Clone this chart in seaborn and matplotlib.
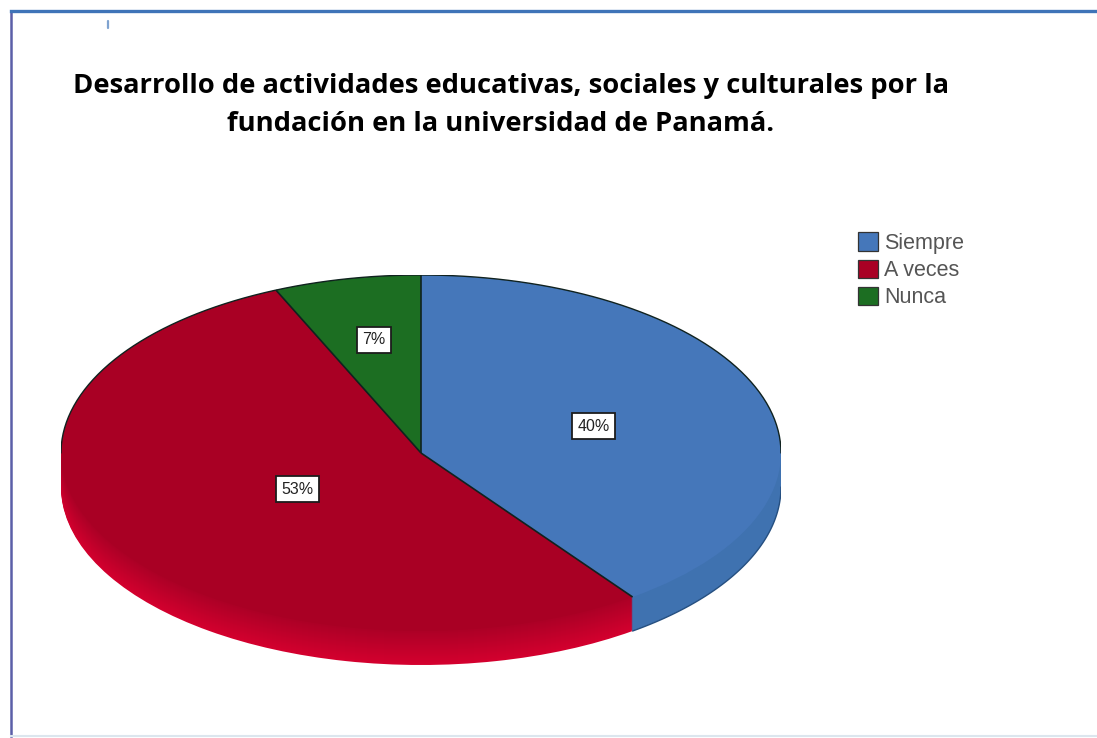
import matplotlib
matplotlib.use("Agg")
import matplotlib.pyplot as plt
from matplotlib.patches import Patch
from matplotlib.lines import Line2D
import matplotlib.colors as mc
import numpy as np
import seaborn as sns

categories = ["Siempre", "A veces", "Nunca"]
values = [40.0, 53.4, 6.6]
title_lines = ["Desarrollo de actividades educativas, sociales y culturales por la",
               "fundación en la universidad de Panamá."]

top_colors = sns.color_palette(["#4577BA", "#A90024", "#1C6E22"])
rim_near = ["#3F72B0", "#D4002E", "#1C6E22"]
rim_far = ["#3F72B0", "#AC0026", "#1A5A1E"]
label_radii = [0.50, 0.40, 0.655]

sns.set_theme(style="white")
plt.rcParams["font.family"] = ["Liberation Sans", "DejaVu Sans"]

W, H = 1097, 738
fig = plt.figure(figsize=(W / 100, H / 100), dpi=100, facecolor="white")

# outer picture frame
frame = fig.add_axes([11 / W, 2 / H, (W - 11 + 5) / W, (H - 13) / H])
frame.set(xticks=[], yticks=[], xlim=(0, W - 6), ylim=(H - 13, 0))
for name in frame.spines:
    frame.spines[name].set_visible(True)
frame.spines["right"].set_visible(False)
frame.spines["top"].set(color="#3F74B8", linewidth=2.4)
frame.spines["left"].set(color="#5B5FA8", linewidth=1.8)
frame.spines["bottom"].set(color="#DCE6EE", linewidth=1.5)
frame.add_artist(Line2D([97, 97], [10, 17], color="#7FA3D0", lw=1.6))

# pie: the axes box is the pixel box of the tilted disc (top face + rim)
rx, ry, depth = 360, 178, 34
left, right, top, bottom = 61, 781, 275, 275 + 2 * ry + depth
ax = fig.add_axes([left / W, 1 - bottom / H, (right - left) / W, (bottom - top) / H])

for k in range(depth, 0, -1):
    t = k / depth
    cols = [tuple((1 - t) * np.array(mc.to_rgb(f)) + t * np.array(mc.to_rgb(n)))
            for f, n in zip(rim_far, rim_near)]
    ax.pie(values, colors=cols, startangle=90, counterclock=False,
           center=(0, -k / ry), radius=1, wedgeprops=dict(linewidth=0))

wedges, _, autotexts = ax.pie(
    values, colors=top_colors, startangle=90, counterclock=False, radius=1,
    autopct=lambda p: f"{p:.0f}%", pctdistance=1.0,
    wedgeprops=dict(linewidth=0),
    textprops=dict(fontsize=11.5, color="#222222"))
for txt, r in zip(autotexts, label_radii):
    x, y = txt.get_position()
    txt.set_position((x * r + 0.004, y * r - 0.005))
    txt.set_bbox(dict(facecolor="white", edgecolor="#1c1c1c", linewidth=1.3, pad=4))
    txt.set_zorder(20)
for w in wedges:
    w.set_zorder(10)

# slice boundaries from the data, and the far edge of the disc
edge = "#10221f"
angles = np.pi / 2 - 2 * np.pi * np.cumsum([0] + values[:-1]) / sum(values)
for a in angles:
    ax.plot([0, np.cos(a)], [0, np.sin(a)], color=edge, lw=1.2, zorder=12,
            solid_capstyle="butt")
far = np.linspace(0, np.pi, 200)
ax.plot(np.cos(far), np.sin(far), color=edge, lw=1.0, zorder=12)
near = np.linspace(angles[1], 0, 100)
ax.plot(np.cos(near), np.sin(near) - depth / ry, color="#254F80", lw=1.0, zorder=9)

ax.set_aspect("auto")
ax.set_xlim(-1, 1)
ax.set_ylim(-1 - depth / ry, 1)
ax.patch.set_alpha(0)

# title
for line, xp, yp in zip(title_lines, [511, 501], [86, 124]):
    fig.text(xp / W, 1 - yp / H, line, ha="center", va="center",
             fontsize=19.7, fontweight="bold", color="black",
             family=["Open Sans", "DejaVu Sans"])

# legend
handles = [Patch(facecolor=c, edgecolor="#333333", linewidth=0.9) for c in top_colors]
fig.legend(handles, categories, loc="upper left",
           bbox_to_anchor=(852 / W, 1 - 226 / H), frameon=False,
           fontsize=15.5, labelcolor="#555555",
           handlelength=0.92, handleheight=0.92, handletextpad=0.28,
           labelspacing=0.26, borderpad=0.3, borderaxespad=0)

fig.savefig("out.png", dpi=100, facecolor="white")
